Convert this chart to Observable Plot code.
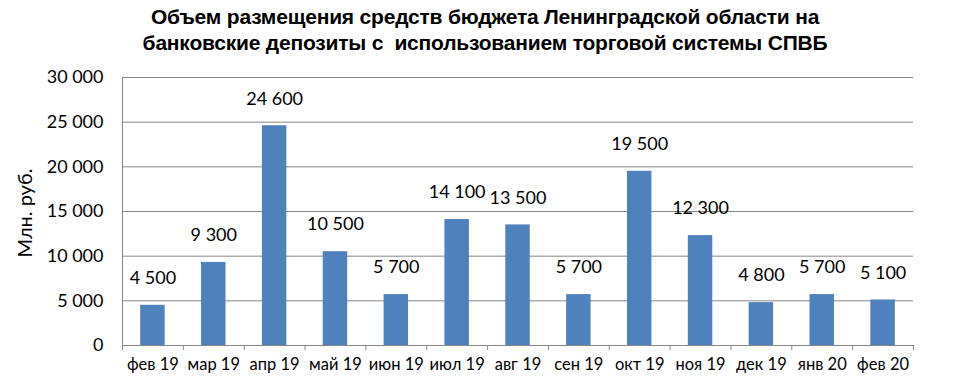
<!DOCTYPE html>
<html>
<head>
<meta charset="utf-8">
<script src="https://cdn.jsdelivr.net/npm/d3@7"></script>
<script src="https://cdn.jsdelivr.net/npm/@observablehq/plot@0.6"></script>
<style>
  body { margin: 0; background: #fff; }
  #title { width: 970px; height: 60px; box-sizing: border-box; padding-top: 4px;
    text-align: center; font: bold 21px "Liberation Sans", Arial, sans-serif; letter-spacing: -0.2px;
    line-height: 26px; color: #000; white-space: nowrap; }
</style>
</head>
<body>
<div id="title">Объем размещения средств бюджета Ленинградской области на<br>банковские депозиты с&nbsp; использованием торговой системы СПВБ</div>
<div id="chart"></div>
<script>
const categories = ["фев 19", "мар 19", "апр 19", "май 19", "июн 19", "июл 19", "авг 19", "сен 19", "окт 19", "ноя 19", "дек 19", "янв 20", "фев 20"];
const values = [4500, 9300, 24600, 10500, 5700, 14100, 13500, 5700, 19500, 12300, 4800, 5700, 5100];
const yTicks = [0, 5000, 10000, 15000, 20000, 25000, 30000];
const yLabel = "Млн. руб.";

const data = categories.map((c, i) => ({cat: c, value: values[i]}));
const fmt = d3.formatLocale({decimal: ",", thousands: "\u00a0", grouping: [3], currency: ["", ""]}).format(",");

const W = 973, H = 331, ML = 122, MR = 60, MT = 17, MB = 46;
const step = (W - ML - MR) / categories.length;
const grid = "#868686";
const font = "Lato, 'Open Sans', sans-serif";

const chart = Plot.plot({
  width: W, height: H,
  marginLeft: ML, marginRight: MR, marginTop: MT, marginBottom: MB,
  style: {fontFamily: font, background: "#fff", color: "#000"},
  x: {type: "band", domain: categories, padding: 0, round: false, axis: null},
  y: {domain: [0, 30000], axis: null},
  marks: [
    Plot.ruleY(yTicks, {y: d => d, stroke: grid, strokeWidth: 1}),
    Plot.ruleX([categories[0]], {x: d => d, y1: 0, y2: 30000, dx: -step / 2, stroke: grid}),
    Plot.ruleX(categories, {x: d => d, y1: 0, y2: 0, dx: -step / 2, insetBottom: -5, stroke: grid}),
    Plot.ruleX([categories[categories.length - 1]], {x: d => d, y1: 0, y2: 0, dx: step / 2, insetBottom: -5, stroke: grid}),
    Plot.barY(data, {x: "cat", y: "value", fill: "#4F81BD", insetLeft: 18.2, insetRight: 18.2}),
    Plot.text(data, {x: "cat", y: "value", text: d => fmt(d.value), dy: -27, fontSize: 18, fill: "#000"}),
    Plot.text(categories, {x: d => d, frameAnchor: "bottom", dy: 24, fontSize: 16.5, fill: "#000"}),
    Plot.text(yTicks, {y: d => d, frameAnchor: "left", dx: -19, textAnchor: "end", text: d => fmt(d), fontSize: 18, fill: "#000"}),
    Plot.text([yLabel], {frameAnchor: "left", dx: -97, dy: 46, rotate: -90, fontSize: 20, fill: "#000"})
  ]
});
document.getElementById("chart").appendChild(chart);
</script>
</body>
</html>
